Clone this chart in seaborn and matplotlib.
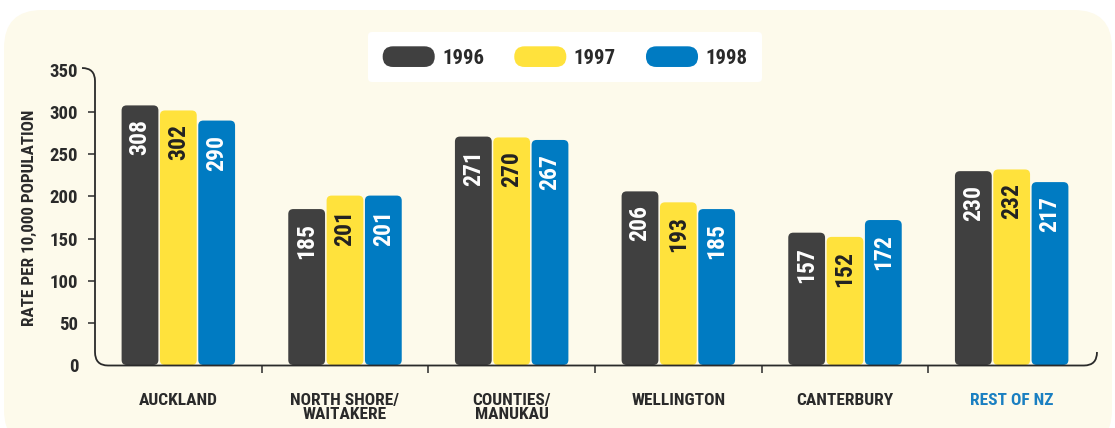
import matplotlib
matplotlib.use("Agg")
import matplotlib.pyplot as plt
import seaborn as sns
import pandas as pd
from matplotlib import font_manager
from matplotlib.patches import FancyBboxPatch, Patch, PathPatch
from matplotlib.path import Path
from matplotlib.legend_handler import HandlerBase

# ---- data ----
categories = ["AUCKLAND", "NORTH SHORE/\nWAITAKERE", "COUNTIES/\nMANUKAU",
              "WELLINGTON", "CANTERBURY", "REST OF NZ"]
years = ["1996", "1997", "1998"]
rate_1996 = [308, 185, 271, 206, 157, 230]
rate_1997 = [302, 201, 270, 193, 152, 232]
rate_1998 = [290, 201, 267, 185, 172, 217]
yticks = [0, 50, 100, 150, 200, 250, 300, 350]

colors = ["#404040", "#FFE23C", "#007BC2"]
label_colors = ["white", "#222222", "white"]
cream = "#FDFAEB"
ink = "#2a2a2a"

rows = []
for yr, vals in zip(years, [rate_1996, rate_1997, rate_1998]):
    for c, v in zip(categories, vals):
        rows.append({"region": c, "year": yr, "rate": v})
df = pd.DataFrame(rows)


# ---- font choice: a condensed family with a bold face ----
def wnum(w):
    if isinstance(w, str):
        return font_manager.weight_dict.get(w, 400)
    return w


bold_info = {}
for f in font_manager.fontManager.ttflist:
    if wnum(f.weight) >= 600:
        bold_info.setdefault(f.name, set()).add(f.stretch)
prefs = ["Roboto Condensed", "Liberation Sans Narrow", "Open Sans Condensed",
         "Noto Sans Condensed"]
main_font, scale = None, 1.0
for p in prefs:
    if p in bold_info:
        main_font = p
        break
if main_font is None:
    others = [n for n in bold_info if ("Narrow" in n or "Condensed" in n)]
    if others:
        main_font = sorted(others)[0]
if main_font is None:
    main_font, scale = "Liberation Sans", 0.86

sns.set_theme(style="white")
plt.rcParams["font.family"] = [main_font, "DejaVu Sans"]
plt.rcParams["font.weight"] = "bold"

fig = plt.figure(figsize=(11.15, 4.28), dpi=100)
fig.patch.set_facecolor("white")
W, H = 1115, 428
panel = FancyBboxPatch((4 / W, -20 / H), 1108 / W, 438 / H,
                       boxstyle="round,pad=0,rounding_size=%f" % (38 / W),
                       mutation_aspect=W / H, transform=fig.transFigure,
                       facecolor=cream, edgecolor="none", zorder=-5)
fig.patches.append(panel)

ax = fig.add_axes([95 / W, 1 - 365 / H, 1000 / W, 295 / H])
ax.set_facecolor("none")
ax.set_zorder(2)

sns.barplot(data=df, x="region", y="rate", hue="year", order=categories,
            hue_order=years, palette=colors, width=0.69, gap=0.04,
            ax=ax, legend=False, saturation=1)

ax.set_xlim(-0.5, len(categories) - 0.5)
ax.set_ylim(0, 350)

# rounded bars + labels
px_x = (len(categories)) / 1000.0  # data units per px in x
px_y = 350 / 295.0
r = 5 * px_x
for ci, cont in enumerate(ax.containers):
    for patch, val in zip(cont.patches, cont.datavalues):
        x, y = patch.get_x(), patch.get_y()
        w, h = patch.get_width(), patch.get_height()
        patch.set_visible(False)
        fb = FancyBboxPatch((x, y), w, h,
                            boxstyle="round,pad=0,rounding_size=%f" % r,
                            mutation_aspect=px_y / px_x,
                            facecolor=colors[ci], edgecolor="none", zorder=2)
        ax.add_patch(fb)
        ax.text(x + w / 2, val - 14 * px_y, f"{int(val)}", rotation=90,
                ha="center", va="top", color=label_colors[ci],
                fontsize=17 * scale, fontweight="bold", zorder=3)

# axes styling: spines replaced by a rounded outline
for s in ["top", "right", "left", "bottom"]:
    ax.spines[s].set_visible(False)


def fp(x, y):
    return (x / W, 1 - y / H)


verts = [fp(82, 68), fp(95, 68), fp(95, 81), fp(95, 352), fp(95, 365.5),
         fp(108, 365.5), fp(1084, 365.5), fp(1097, 365.5), fp(1097, 352)]
codes = [Path.MOVETO, Path.CURVE3, Path.CURVE3, Path.LINETO, Path.CURVE3,
         Path.CURVE3, Path.LINETO, Path.CURVE3, Path.CURVE3]
outline = PathPatch(Path(verts, codes), transform=fig.transFigure,
                    facecolor="none", edgecolor=ink, linewidth=1.3, zorder=5)
fig.patches.append(outline)

ax.set_yticks(yticks)
ax.set_yticklabels([str(t) for t in yticks])
ax.tick_params(axis="y", direction="out", length=5, width=1.1, color=ink,
               pad=7, labelsize=13.5 * scale, labelcolor=ink, left=True)
ytk = ax.yaxis.get_major_ticks()
ytk[0].tick1line.set_visible(False)
ytk[-1].tick1line.set_visible(False)
ax.tick_params(axis="x", length=0, pad=20, labelsize=12.5 * scale, labelcolor=ink)
ax.set_xticks(range(len(categories)))
ax.set_xticks([i + 0.5 for i in range(len(categories) - 1)], minor=True)
ax.tick_params(axis="x", which="minor", direction="out", length=6, width=1.1,
               color=ink, bottom=True)
for lbl in ax.get_xticklabels():
    lbl.set_fontweight("bold")
    lbl.set_linespacing(0.95)
    lbl.set_va("top")
ax.get_xticklabels()[-1].set_color("#1A7FC1")
for lbl in ax.get_yticklabels():
    lbl.set_fontweight("bold")
ax.set_xlabel("")
ax.set_ylabel("RATE PER 10,000 POPULATION", fontsize=12.3 * scale, fontweight="bold",
              color=ink, labelpad=9)


# legend with pill-shaped handles
class PillHandler(HandlerBase):
    def create_artists(self, legend, orig_handle, xdescent, ydescent,
                       width, height, fontsize, trans):
        p = FancyBboxPatch((-xdescent, -ydescent), width, height,
                           boxstyle="round,pad=0,rounding_size=%f" % (height / 2),
                           facecolor=orig_handle.get_facecolor(),
                           edgecolor="none", transform=trans)
        return [p]


handles = [Patch(facecolor=c) for c in colors]
leg = fig.legend(handles, years, loc="center", bbox_to_anchor=(565 / W, 1 - 57 / H),
                 ncol=3, frameon=True, fancybox=True, facecolor="white",
                 edgecolor="none", framealpha=1, handler_map={Patch: PillHandler()},
                 prop={"size": 15 * scale, "weight": "bold"}, handlelength=2.5,
                 handleheight=1.15, handletextpad=0.35, columnspacing=1.45,
                 borderpad=0.7)
for t in leg.get_texts():
    t.set_color(ink)
fig.savefig("out.png", dpi=100, facecolor=fig.get_facecolor())
